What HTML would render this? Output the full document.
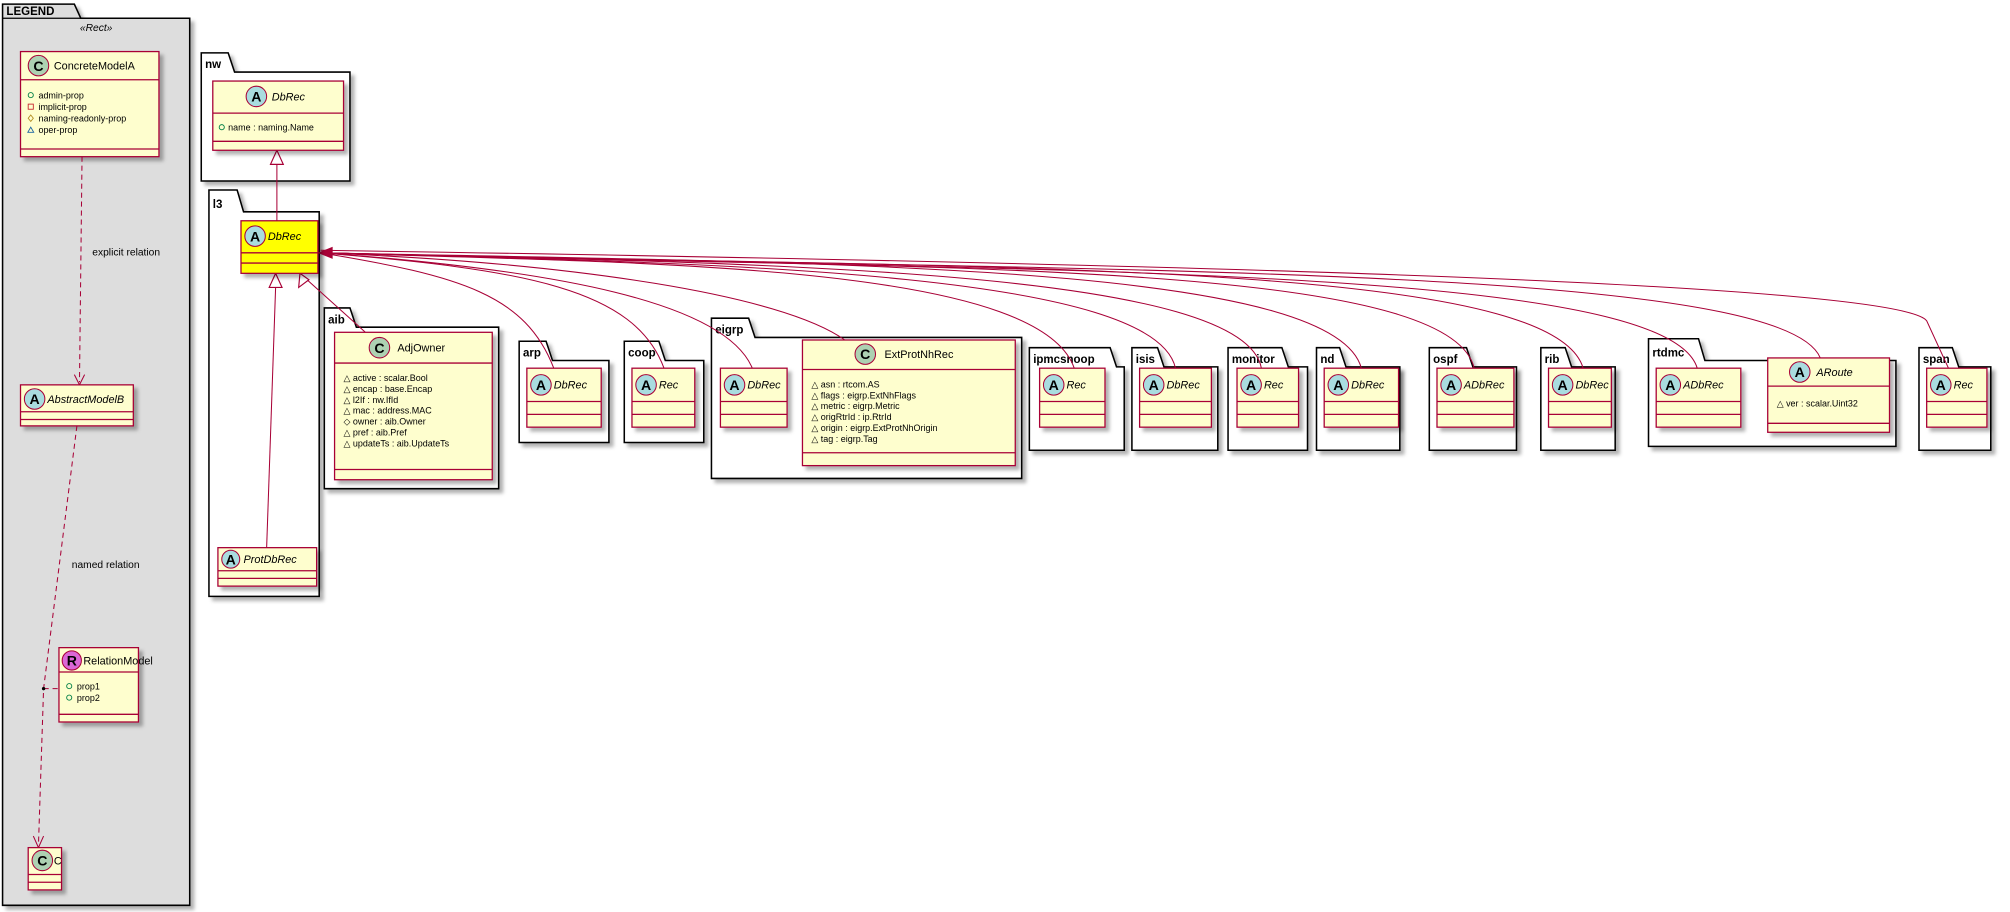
<!DOCTYPE html>
<html><head><meta charset="utf-8"><style>
html,body{margin:0;padding:0;background:#fff;}
svg{display:block}
text{font-family:"Liberation Sans",sans-serif;}
.cn{font-size:8.5px;fill:#000}
.it{font-style:italic}
.at{font-size:7px;fill:#000}
.pk{font-size:9px;font-weight:bold}
.cl{fill:#FEFECE;stroke:#A80036;stroke-width:1}
.ln{stroke:#A80036;stroke-width:1}
.pg{fill:#fff;stroke:#000;stroke-width:1.2}
.ic{stroke:#A80036;stroke-width:0.8}
.e{fill:none;stroke:#A80036;stroke-width:0.8}
.tri{fill:#fff;stroke:#A80036;stroke-width:0.9}
.L{font-weight:bold;font-size:11px;fill:#000;text-anchor:middle}
</style></head><body>
<svg width="2010" height="912" viewBox="0 0 1568 711" xmlns="http://www.w3.org/2000/svg">
<defs><filter id="s" x="-10%" y="-10%" width="130%" height="130%"><feDropShadow dx="3" dy="3" stdDeviation="1.5" flood-color="#000" flood-opacity="0.3"/></filter></defs>

<!-- LEGEND -->
<g filter="url(#s)">
<path d="M2,14 V3 H58 L63,14 H148 V706 H2 Z" fill="#DDDDDD" stroke="#000" stroke-width="1.2"/>
</g>
<line x1="2" y1="14" x2="63" y2="14" stroke="#000" stroke-width="1"/>
<text x="5" y="11.5" class="pk">LEGEND</text>
<text x="75" y="24" class="at it" text-anchor="middle" style="font-size:8px">«Rect»</text>

<g filter="url(#s)"><rect x="16" y="40" width="108" height="82" class="cl"/></g>
<line x1="16" y1="62" x2="124" y2="62" class="ln"/><line x1="16" y1="116" x2="124" y2="116" class="ln"/>
<circle cx="30" cy="51" r="8" fill="#ADD1B2" class="ic"/><text x="30" y="55" class="L">C</text>
<text x="42" y="54" class="cn">ConcreteModelA</text>
<g class="at">
<circle cx="24" cy="74" r="2" fill="none" stroke="#038048" stroke-width="0.7"/><text x="30" y="76.5">admin-prop</text>
<rect x="22" y="81" width="4" height="4" fill="none" stroke="#C82930" stroke-width="0.7"/><text x="30" y="85.5">implicit-prop</text>
<path d="M24,89.5 l2,2.5 l-2,2.5 l-2,-2.5z" fill="none" stroke="#B38D22" stroke-width="0.7"/><text x="30" y="94.5">naming-readonly-prop</text>
<path d="M24,99 l2.3,4 h-4.6z" fill="none" stroke="#1963A0" stroke-width="0.7"/><text x="30" y="103.5">oper-prop</text>
</g>

<path d="M64,122 L62,298" class="e" stroke-dasharray="4,3"/>
<path d="M58,292 L62,300 L66,292" class="e"/>
<text x="72" y="199" class="at" style="font-size:8px">explicit relation</text>

<g filter="url(#s)"><rect x="16" y="300" width="88" height="32" class="cl"/></g>
<line x1="16" y1="321" x2="104" y2="321" class="ln"/><line x1="16" y1="327" x2="104" y2="327" class="ln"/>
<circle cx="27" cy="311" r="8" fill="#A9DCDF" class="ic"/><text x="27" y="315" class="L">A</text>
<text x="37" y="314" class="cn it">AbstractModelB</text>

<path d="M60,332 L34,537 L30,659" class="e" stroke-dasharray="4,3"/>
<path d="M26,652 L30,661 L34,652" class="e"/>
<path d="M34,537 H46" class="e" stroke-dasharray="4,3"/>
<circle cx="34" cy="537" r="1.3" fill="#000"/>
<text x="56" y="443" class="at" style="font-size:8px">named relation</text>

<g filter="url(#s)"><rect x="46" y="505" width="62" height="58" class="cl"/></g>
<line x1="46" y1="524" x2="108" y2="524" class="ln"/><line x1="46" y1="557" x2="108" y2="557" class="ln"/>
<circle cx="56" cy="515" r="7.5" fill="#DB67D6" class="ic"/><text x="56" y="519" class="L">R</text>
<text x="65" y="518" class="cn">RelationModel</text>
<circle cx="54" cy="535" r="2" fill="none" stroke="#038048" stroke-width="0.7"/><text x="60" y="537.5" class="at">prop1</text>
<circle cx="54" cy="544" r="2" fill="none" stroke="#038048" stroke-width="0.7"/><text x="60" y="546.5" class="at">prop2</text>

<g filter="url(#s)"><rect x="22" y="661" width="26" height="33" class="cl"/></g>
<line x1="22" y1="682" x2="48" y2="682" class="ln"/><line x1="22" y1="688" x2="48" y2="688" class="ln"/>
<circle cx="33" cy="671" r="8" fill="#ADD1B2" class="ic"/><text x="33" y="675" class="L">C</text>
<text x="42" y="674" class="cn">C</text>

<!-- packages -->
<g filter="url(#s)">
<path d="M157,56 V41 H178 L183,56 H273 V141 H157 Z" class="pg"/>
<path d="M163,165 V148 H185 L190,165 H249 V465 H163 Z" class="pg"/>
<path d="M253,255 V240 H273 L278,255 H389 V381 H253 Z" class="pg"/>
<path d="M405,281 V266 H426 L431,281 H475 V345 H405 Z" class="pg"/>
<path d="M487,281 V266 H514 L519,281 H549 V345 H487 Z" class="pg"/>
<path d="M555,263 V248 H584 L589,263 H797 V373 H555 Z" class="pg"/>
<path d="M803,286 V271 H866 L871,286 H877 V351 H803 Z" class="pg"/>
<path d="M883,286 V271 H903 L908,286 H950 V351 H883 Z" class="pg"/>
<path d="M958,286 V271 H1000 L1005,286 H1020 V351 H958 Z" class="pg"/>
<path d="M1027,286 V271 H1045 L1050,286 H1092 V351 H1027 Z" class="pg"/>
<path d="M1115,286 V271 H1144 L1149,286 H1183 V351 H1115 Z" class="pg"/>
<path d="M1202,286 V271 H1221 L1226,286 H1260 V351 H1202 Z" class="pg"/>
<path d="M1286,281 V264 H1325 L1330,281 H1479 V348 H1286 Z" class="pg"/>
<path d="M1497,286 V271 H1523 L1528,286 H1553 V351 H1497 Z" class="pg"/>
</g>
<g class="pk">
<text x="160" y="53">nw</text><text x="166" y="162">l3</text><text x="256" y="252">aib</text>
<text x="408" y="278">arp</text><text x="490" y="278">coop</text><text x="558" y="260">eigrp</text>
<text x="806" y="283">ipmcsnoop</text><text x="886" y="283">isis</text><text x="961" y="283">monitor</text>
<text x="1030" y="283">nd</text><text x="1118" y="283">ospf</text><text x="1205" y="283">rib</text>
<text x="1289" y="278">rtdmc</text><text x="1500" y="283">span</text>
</g>

<!-- edges -->
<g class="e">
<path d="M250,197 C360,215 410,230 432,287"/>
<path d="M250,197 C410,210 495,225 518,287"/>
<path d="M250,197 C430,210 570,235 588,290"/>
<path d="M250,197 C450,205 610,230 659,265"/>
<path d="M250,197 C500,205 810,205 838,287"/>
<path d="M250,197 C550,205 900,210 917,287"/>
<path d="M250,197 C600,205 970,210 984,287"/>
<path d="M250,197 C650,205 1040,205 1062,287"/>
<path d="M250,197 C700,210 1130,200 1150,287"/>
<path d="M250,197 C750,210 1210,200 1235,287"/>
<path d="M250,197 C800,212 1300,205 1324,287"/>
<path d="M250,197 C850,212 1390,205 1420,279"/>
<path d="M250,195 C900,205 1480,220 1503,250 L1520,287"/>
<path d="M234,213 L285,259"/>
<path d="M216,128 V172"/>
<path d="M215,224 L208,427"/>
</g>
<path d="M259,193 L249,197 L259,201 Z" fill="#A80036" stroke="#A80036"/>
<path d="M216,117 L211,128 H221 Z" class="tri"/>
<path d="M215,213 L210,224 H220 Z" class="tri"/>
<path d="M234,213 L233,224 L241,218 Z" class="tri"/>

<!-- nw DbRec -->
<g filter="url(#s)"><rect x="166" y="63" width="102" height="54" class="cl"/></g>
<line x1="166" y1="88" x2="268" y2="88" class="ln"/><line x1="166" y1="110" x2="268" y2="110" class="ln"/>
<circle cx="200" cy="75" r="8" fill="#A9DCDF" class="ic"/><text x="200" y="79" class="L">A</text>
<text x="212" y="78" class="cn it">DbRec</text>
<circle cx="173" cy="99" r="2" fill="none" stroke="#038048" stroke-width="0.7"/><text x="178" y="101.5" class="at">name : naming.Name</text>

<!-- l3 DbRec yellow -->
<g filter="url(#s)"><rect x="188" y="172" width="60" height="41" fill="#FFFF00" stroke="#A80036"/></g>
<line x1="188" y1="197" x2="248" y2="197" class="ln"/><line x1="188" y1="205" x2="248" y2="205" class="ln"/>
<circle cx="199" cy="184" r="8" fill="#A9DCDF" class="ic"/><text x="199" y="188" class="L">A</text>
<text x="209" y="187" class="cn it">DbRec</text>

<!-- ProtDbRec -->
<g filter="url(#s)"><rect x="170" y="427" width="77" height="30" class="cl"/></g>
<line x1="170" y1="445" x2="247" y2="445" class="ln"/><line x1="170" y1="451" x2="247" y2="451" class="ln"/>
<circle cx="180" cy="436" r="7" fill="#A9DCDF" class="ic"/><text x="180" y="440" class="L">A</text>
<text x="190" y="439" class="cn it">ProtDbRec</text>

<!-- AdjOwner -->
<g filter="url(#s)"><rect x="261" y="259" width="123" height="115" class="cl"/></g>
<line x1="261" y1="283" x2="384" y2="283" class="ln"/><line x1="261" y1="366" x2="384" y2="366" class="ln"/>
<circle cx="296" cy="271" r="8" fill="#ADD1B2" class="ic"/><text x="296" y="275" class="L">C</text>
<text x="310" y="274" class="cn">AdjOwner</text>
<g class="at">
<text x="268" y="297">△ active : scalar.Bool</text>
<text x="268" y="305.5">△ encap : base.Encap</text>
<text x="268" y="314">△ l2If : nw.IfId</text>
<text x="268" y="322.5">△ mac : address.MAC</text>
<text x="268" y="331">◇ owner : aib.Owner</text>
<text x="268" y="339.5">△ pref : aib.Pref</text>
<text x="268" y="348">△ updateTs : aib.UpdateTs</text>
</g>

<!-- ExtProtNhRec -->
<g filter="url(#s)"><rect x="626" y="265" width="166" height="98" class="cl"/></g>
<line x1="626" y1="288" x2="792" y2="288" class="ln"/><line x1="626" y1="353" x2="792" y2="353" class="ln"/>
<circle cx="675" cy="276" r="8" fill="#ADD1B2" class="ic"/><text x="675" y="280" class="L">C</text>
<text x="690" y="279" class="cn">ExtProtNhRec</text>
<g class="at">
<text x="633" y="302">△ asn : rtcom.AS</text>
<text x="633" y="310.5">△ flags : eigrp.ExtNhFlags</text>
<text x="633" y="319">△ metric : eigrp.Metric</text>
<text x="633" y="327.5">△ origRtrId : ip.RtrId</text>
<text x="633" y="336">△ origin : eigrp.ExtProtNhOrigin</text>
<text x="633" y="344.5">△ tag : eigrp.Tag</text>
</g>

<!-- ARoute -->
<g filter="url(#s)"><rect x="1379" y="279" width="95" height="58" class="cl"/></g>
<line x1="1379" y1="301" x2="1474" y2="301" class="ln"/><line x1="1379" y1="330" x2="1474" y2="330" class="ln"/>
<circle cx="1404" cy="290" r="8" fill="#A9DCDF" class="ic"/><text x="1404" y="294" class="L">A</text>
<text x="1417" y="293" class="cn it">ARoute</text>
<text x="1386" y="317" class="at">△ ver : scalar.Uint32</text>

<!-- small abstract classes -->
<g filter="url(#s)">
<rect x="411" y="287" width="58" height="46" class="cl"/>
<rect x="493" y="287" width="49" height="46" class="cl"/>
<rect x="562" y="287" width="52" height="46" class="cl"/>
<rect x="811" y="287" width="51" height="46" class="cl"/>
<rect x="889" y="287" width="56" height="46" class="cl"/>
<rect x="965" y="287" width="48" height="46" class="cl"/>
<rect x="1033" y="287" width="58" height="46" class="cl"/>
<rect x="1121" y="287" width="60" height="46" class="cl"/>
<rect x="1208" y="287" width="49" height="46" class="cl"/>
<rect x="1292" y="287" width="66" height="46" class="cl"/>
<rect x="1503" y="287" width="47" height="46" class="cl"/>
</g>
<g class="ln">
<path d="M411,313h58M411,323h58M493,313h49M493,323h49M562,313h52M562,323h52M811,313h51M811,323h51M889,313h56M889,323h56M965,313h48M965,323h48M1033,313h58M1033,323h58M1121,313h60M1121,323h60M1208,313h49M1208,323h49M1292,313h66M1292,323h66M1503,313h47M1503,323h47"/>
</g>
<g fill="#A9DCDF" class="ic">
<circle cx="422" cy="300" r="8"/><circle cx="504" cy="300" r="8"/><circle cx="573" cy="300" r="8"/>
<circle cx="822" cy="300" r="8"/><circle cx="900" cy="300" r="8"/><circle cx="976" cy="300" r="8"/>
<circle cx="1044" cy="300" r="8"/><circle cx="1132" cy="300" r="8"/><circle cx="1219" cy="300" r="8"/>
<circle cx="1303" cy="300" r="8"/><circle cx="1514" cy="300" r="8"/>
</g>
<g class="L">
<text x="422" y="304">A</text><text x="504" y="304">A</text><text x="573" y="304">A</text>
<text x="822" y="304">A</text><text x="900" y="304">A</text><text x="976" y="304">A</text>
<text x="1044" y="304">A</text><text x="1132" y="304">A</text><text x="1219" y="304">A</text>
<text x="1303" y="304">A</text><text x="1514" y="304">A</text>
</g>
<g class="cn it">
<text x="432" y="303">DbRec</text><text x="514" y="303">Rec</text><text x="583" y="303">DbRec</text>
<text x="832" y="303">Rec</text><text x="910" y="303">DbRec</text><text x="986" y="303">Rec</text>
<text x="1054" y="303">DbRec</text><text x="1142" y="303">ADbRec</text><text x="1229" y="303">DbRec</text>
<text x="1313" y="303">ADbRec</text><text x="1524" y="303">Rec</text>
</g>
</svg>
</body></html>
